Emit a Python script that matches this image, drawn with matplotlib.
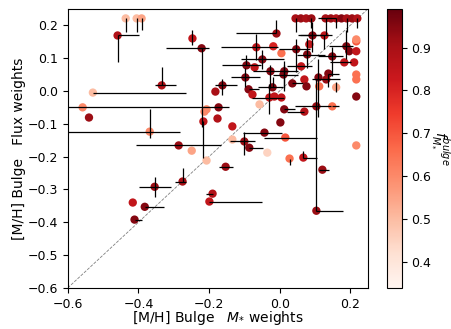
import numpy as np
import matplotlib.pyplot as plt

# [M/H] of the bulge, mass weighted (x) and flux weighted (y), plus bulge mass fraction
mh_mass = [-0.459, -0.436, -0.405, -0.391, -0.247, -0.221, -0.334, -0.529, -0.558, -0.173,
           -0.540, -0.368, -0.286, -0.249, -0.207, -0.216, -0.207, -0.182, -0.162, -0.176,
           -0.153, -0.354, -0.275, -0.416, -0.382, -0.411, -0.190, -0.199, 0.121, 0.104,
           0.002, 0.016, 0.028, 0.067, 0.217, 0.011, 0.036, 0.070, 0.076, 0.110,
           0.138, 0.132, 0.112, 0.160, 0.217, 0.217, 0.217, 0.149, 0.104, 0.070,
           0.013, -0.020, -0.015, 0.005, 0.045, 0.060, 0.075, 0.090, 0.130, 0.145,
           0.160, 0.175, 0.190, 0.205, 0.220, 0.093, 0.047, 0.084, 0.078, 0.127,
           0.149, 0.005, 0.189, 0.197, 0.217, 0.183, 0.211, 0.013, 0.061, -0.009,
           -0.066, -0.018, -0.049, -0.094, -0.071, -0.026, -0.097, -0.088, -0.077, -0.057,
           -0.029, -0.213, -0.134, -0.134, -0.100, -0.086, -0.043, -0.035, 0.217, 0.217]
mh_flux = [0.169, 0.221, 0.221, 0.221, 0.160, 0.130, 0.017, -0.005, -0.050, -0.050,
           -0.081, -0.124, -0.166, -0.182, -0.212, -0.093, -0.056, -0.002, 0.017, -0.084,
           -0.231, -0.292, -0.276, -0.340, -0.353, -0.392, -0.313, -0.337, -0.240, -0.365,
           -0.096, -0.142, -0.206, -0.203, -0.166, 0.050, 0.023, 0.035, 0.014, 0.041,
           0.053, 0.035, 0.014, 0.011, 0.050, 0.035, -0.017, -0.047, -0.047, -0.063,
           -0.056, 0.011, -0.017, -0.020, 0.221, 0.221, 0.221, 0.221, 0.221, 0.221,
           0.221, 0.221, 0.221, 0.221, 0.221, 0.169, 0.127, 0.142, 0.111, 0.169,
           0.105, 0.115, 0.136, 0.121, 0.151, 0.087, 0.087, 0.060, 0.075, 0.175,
           0.133, 0.136, 0.096, 0.078, 0.072, 0.060, 0.041, 0.005, -0.011, -0.041,
           -0.020, -0.063, -0.108, -0.148, -0.154, -0.173, -0.127, -0.188, 0.157, 0.121]
f_bulge = [0.88, 0.50, 0.50, 0.55, 0.85, 0.95, 0.88, 0.50, 0.60, 0.95,
           0.92, 0.60, 0.92, 0.55, 0.50, 0.85, 0.60, 0.90, 0.95, 0.88,
           0.92, 0.92, 0.90, 0.85, 0.95, 0.95, 0.88, 0.85, 0.92, 0.92,
           0.95, 0.70, 0.65, 0.85, 0.60, 0.95, 0.95, 0.85, 0.95, 0.95,
           0.95, 0.92, 0.65, 0.55, 0.65, 0.65, 0.95, 0.65, 0.92, 0.88,
           0.95, 0.95, 0.85, 0.85, 0.90, 0.92, 0.90, 0.92, 0.90, 0.92,
           0.88, 0.95, 0.90, 0.92, 0.88, 0.95, 0.95, 0.85, 0.95, 0.85,
           0.95, 0.65, 0.95, 0.95, 0.70, 0.85, 0.85, 0.95, 0.85, 0.92,
           0.85, 0.80, 0.95, 0.95, 0.85, 0.95, 0.95, 0.95, 0.85, 0.50,
           0.85, 0.60, 0.85, 0.50, 0.92, 0.95, 0.95, 0.45, 0.60, 0.85]

# asymmetric errors (lower, upper); most are tiny
xerr_lo = [0, 0, 0, 0, 0, 0.10, 0.02, 0, 0, 0.43,
           0, 0.25, 0.12, 0, 0, 0, 0, 0, 0.02, 0,
           0.02, 0.045, 0.02, 0, 0, 0, 0.02, 0, 0.01, 0,
           0, 0.06, 0, 0, 0, 0.03, 0, 0, 0, 0,
           0, 0.04, 0, 0, 0, 0, 0, 0, 0.06, 0.05,
           0, 0.04, 0, 0, 0, 0, 0, 0, 0.02, 0,
           0, 0, 0, 0, 0, 0.04, 0.05, 0, 0.03, 0.07,
           0.04, 0, 0.05, 0, 0, 0.04, 0, 0, 0.04, 0.115,
           0.10, 0, 0.06, 0.07, 0, 0.05, 0.04, 0, 0, 0,
           0.05, 0, 0, 0, 0.04, 0, 0.06, 0, 0, 0]
xerr_hi = [0.062, 0, 0, 0, 0, 0.02, 0.04, 0.265, 0, 0.03,
           0, 0.085, 0.12, 0, 0, 0, 0, 0, 0.04, 0,
           0.02, 0.045, 0.01, 0, 0.055, 0.02, 0, 0.15, 0.02, 0.075,
           0, 0.09, 0, 0.04, 0, 0.04, 0.03, 0, 0, 0,
           0.03, 0.04, 0, 0, 0, 0, 0, 0.02, 0.04, 0,
           0.03, 0.03, 0, 0, 0, 0, 0, 0, 0.03, 0,
           0, 0, 0, 0, 0, 0.03, 0.04, 0, 0.05, 0.02,
           0.03, 0, 0.02, 0, 0, 0.02, 0, 0.04, 0.03, 0,
           0.06, 0, 0.06, 0.04, 0, 0.05, 0.04, 0.03, 0, 0,
           0.04, 0, 0, 0, 0.03, 0.04, 0.05, 0, 0, 0]
yerr_lo = [0.08, 0.04, 0.04, 0.035, 0.02, 0.24, 0, 0, 0, 0,
           0, 0.02, 0, 0, 0, 0.11, 0, 0, 0.03, 0,
           0, 0.03, 0, 0, 0, 0, 0, 0, 0, 0,
           0, 0, 0.02, 0, 0, 0.05, 0, 0, 0, 0.12,
           0.04, 0, 0, 0.015, 0, 0, 0, 0, 0, 0,
           0, 0, 0, 0, 0.04, 0, 0, 0.03, 0.05, 0,
           0.03, 0, 0.04, 0, 0.03, 0.05, 0.07, 0, 0.04, 0.04,
           0.06, 0, 0.04, 0, 0, 0, 0, 0.05, 0, 0,
           0.04, 0, 0.03, 0, 0, 0.05, 0.03, 0, 0, 0,
           0.05, 0, 0, 0, 0.04, 0, 0, 0, 0, 0]
yerr_hi = [0, 0, 0, 0, 0.025, 0, 0.055, 0, 0, 0,
           0, 0.07, 0, 0, 0, 0, 0, 0, 0.02, 0,
           0, 0.03, 0.04, 0, 0, 0, 0, 0, 0, 0.40,
           0, 0, 0, 0.02, 0, 0.03, 0, 0, 0, 0.055,
           0, 0, 0, 0.015, 0, 0, 0, 0, 0, 0,
           0, 0.03, 0, 0, 0, 0, 0, 0, 0, 0,
           0, 0, 0, 0, 0, 0.04, 0.03, 0, 0.05, 0,
           0.03, 0, 0.05, 0, 0, 0, 0, 0.03, 0, 0.04,
           0.04, 0, 0.03, 0.03, 0, 0.02, 0.03, 0, 0, 0,
           0.04, 0, 0, 0, 0.03, 0, 0, 0, 0, 0]

x = np.array(mh_mass)
y = np.array(mh_flux)

fig = plt.figure(figsize=(4.52, 3.29), dpi=100)
ax = fig.add_axes([0.150, 0.125, 0.664, 0.848])
cax = fig.add_axes([0.856, 0.125, 0.033, 0.848])

ax.plot([-0.6, 0.25], [-0.6, 0.25], ls='--', color='grey', lw=0.6, zorder=1)
sc = ax.scatter(x, y, c=f_bulge, cmap='Reds', vmin=0.34, vmax=0.99, s=36,
                edgecolors='none', zorder=2)
ax.errorbar(x, y, xerr=[xerr_lo, xerr_hi], yerr=[yerr_lo, yerr_hi], fmt='none',
            ecolor='k', elinewidth=0.9, capsize=0, zorder=3)

ax.set_xlim(-0.6, 0.25)
ax.set_ylim(-0.6, 0.25)
ax.set_xticks([-0.6, -0.4, -0.2, 0.0, 0.2])
ax.set_yticks([-0.6, -0.5, -0.4, -0.3, -0.2, -0.1, 0.0, 0.1, 0.2])
ax.tick_params(labelsize=9)
ax.set_xlabel(r'[M/H] Bulge   $M_{*}$ weights', fontsize=10, labelpad=-1)
ax.set_ylabel('[M/H] Bulge   Flux weights', fontsize=10, labelpad=1)

cb = fig.colorbar(sc, cax=cax)
cb.set_ticks([0.4, 0.5, 0.6, 0.7, 0.8, 0.9])
cb.ax.tick_params(labelsize=9)
cb.set_label(r'$f_{M_{*}}^{bulge}$', rotation=-90, fontsize=10, labelpad=14)

fig.savefig('out.png', dpi=100)
